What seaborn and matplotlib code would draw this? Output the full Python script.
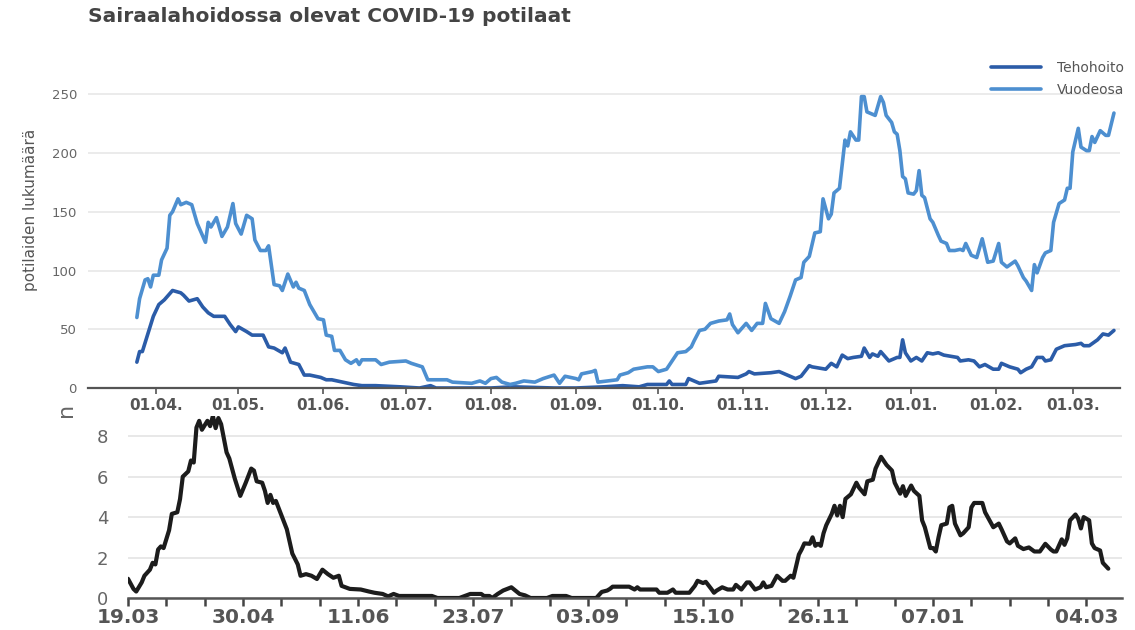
import pandas as pd
import matplotlib
matplotlib.use("Agg")
import matplotlib.pyplot as plt
import seaborn as sns

# Sairaalahoidossa olevat potilaat, päiviä 1.4.2020 alkaen
TOP_START = pd.Timestamp("2020-04-01")
# alempi kuva, päiviä 19.3.2020 alkaen
N_START = pd.Timestamp("2020-03-19")

vuodeosa_days = [-7, -6, -4, -3, -2, -1, 1, 2, 4, 5, 6, 8, 9, 11, 13, 15, 18, 19, 20, 22,
                 24, 26, 28, 29, 31, 33, 35, 36, 38, 40, 41, 43, 45, 46, 48, 50, 51, 52, 54, 56,
                 59, 61, 62, 64, 65, 67, 69, 71, 73, 74, 75, 80, 82, 85, 91, 93, 97, 99, 102, 106,
                 108, 115, 118, 120, 122, 124, 126, 129, 131, 134, 138, 141, 145, 147, 149, 151, 153, 154, 155, 159,
                 160, 161, 168, 169, 172, 174, 179, 181, 183, 186, 188, 190, 193, 195, 196, 198, 200, 202, 205, 208,
                 209, 210, 212, 215, 217, 219, 221, 222, 224, 227, 229, 231, 233, 235, 236, 238, 240, 242, 243, 245,
                 246, 247, 249, 251, 252, 253, 255, 256, 257, 258, 259, 261, 262, 264, 265, 266, 268, 269, 270, 271,
                 272, 273, 274, 276, 277, 278, 279, 280, 282, 283, 285, 286, 288, 289, 291, 293, 294, 295, 297, 299,
                 301, 303, 305, 307, 308, 310, 313, 314, 316, 317, 319, 320, 321, 323, 324, 326, 327, 329, 331, 332,
                 333, 334, 336, 337, 339, 340, 341, 342, 344, 346, 347, 349]
vuodeosa = [60, 76, 92, 93, 86, 96, 96, 109, 119, 147, 150, 161, 156, 158, 156, 140, 124, 141, 137, 145,
            129, 137, 157, 140, 131, 147, 144, 126, 117, 117, 121, 88, 87, 83, 97, 86, 90, 85, 83, 71,
            59, 58, 45, 44, 32, 32, 24, 21, 24, 20, 24, 24, 20, 22, 23, 21, 18, 7, 7, 7,
            5, 4, 6, 4, 8, 9, 5, 3, 4, 6, 5, 8, 11, 4, 10, 9, 8, 7, 12, 14,
            15, 5, 7, 11, 13, 16, 18, 18, 14, 16, 23, 30, 31, 35, 40, 49, 50, 55, 57, 58,
            63, 54, 47, 55, 49, 55, 55, 72, 59, 55, 65, 78, 92, 94, 107, 112, 132, 133, 161, 144,
            148, 166, 170, 211, 206, 218, 211, 211, 248, 248, 235, 233, 232, 248, 243, 232, 226, 218, 216, 202,
            180, 178, 166, 165, 168, 185, 164, 162, 144, 141, 130, 125, 123, 117, 117, 118, 117, 123, 113, 111,
            127, 107, 108, 123, 107, 103, 108, 104, 94, 91, 83, 105, 98, 111, 115, 117, 141, 157, 160, 170,
            170, 201, 221, 205, 202, 202, 214, 209, 219, 215, 215, 234]

teho_days = [-7, -6, -5, -3, -1, 1, 3, 6, 9, 10, 12, 15, 17, 19, 21, 24, 25, 27, 29, 30,
             33, 35, 39, 41, 43, 46, 47, 49, 52, 54, 56, 60, 62, 64, 68, 72, 75, 80, 89, 96,
             100, 102, 110, 122, 130, 145, 153, 163, 170, 176, 179, 186, 187, 188, 193, 194, 196, 198, 204, 205,
             212, 215, 216, 218, 224, 227, 230, 233, 235, 238, 239, 244, 246, 248, 250, 252, 254, 257, 258, 260,
             261, 263, 264, 267, 270, 271, 272, 273, 275, 277, 279, 281, 283, 285, 287, 292, 293, 296, 298, 300,
             302, 305, 307, 308, 311, 314, 315, 317, 319, 321, 323, 324, 326, 328, 331, 335, 337, 338, 340, 343,
             345, 347, 349]
tehohoito = [22, 31, 31, 46, 61, 71, 75, 83, 81, 79, 74, 76, 69, 64, 61, 61, 61, 54, 48, 52,
             48, 45, 45, 35, 34, 30, 34, 22, 20, 11, 11, 9, 7, 7, 5, 3, 2, 2, 1, 0,
             2, 0, 0, 0, 1, 0, 0, 1, 2, 1, 3, 3, 6, 3, 3, 8, 6, 4, 6, 10,
             9, 12, 14, 12, 13, 14, 11, 8, 10, 19, 18, 16, 21, 18, 28, 25, 26, 27, 34, 26,
             29, 27, 31, 23, 26, 26, 41, 30, 23, 26, 23, 30, 29, 30, 28, 26, 23, 24, 23, 18,
             20, 16, 16, 21, 18, 16, 13, 16, 18, 26, 26, 23, 24, 33, 36, 37, 38, 36, 36, 41,
             46, 45, 49]

n_days = [0, 2, 3, 5, 6, 8, 9, 10, 11, 12, 13, 15, 16, 18, 19, 20, 22, 23, 24, 25,
          26, 27, 29, 30, 31, 32, 33, 34, 36, 37, 39, 41, 43, 45, 46, 47, 49, 50, 51, 52,
          53, 54, 56, 58, 60, 62, 63, 65, 67, 69, 71, 73, 75, 77, 78, 81, 85, 88, 90, 93,
          95, 97, 99, 104, 111, 113, 121, 123, 125, 129, 130, 132, 133, 135, 137, 140, 143, 145, 147, 153,
          155, 160, 162, 171, 173, 175, 176, 177, 183, 185, 186, 187, 193, 194, 197, 199, 200, 205, 207, 208,
          210, 211, 213, 214, 215, 217, 219, 221, 222, 224, 226, 227, 229, 231, 232, 233, 235, 237, 239, 240,
          242, 243, 245, 246, 247, 249, 250, 251, 252, 253, 254, 255, 257, 258, 259, 260, 261, 262, 264, 266,
          267, 269, 270, 272, 273, 275, 277, 279, 280, 282, 283, 284, 286, 287, 289, 290, 291, 293, 294, 295,
          296, 297, 299, 300, 301, 302, 304, 305, 307, 308, 309, 312, 313, 316, 318, 319, 321, 322, 324, 325,
          327, 329, 331, 333, 335, 337, 338, 339, 341, 342, 343, 344, 346, 347, 348, 349, 351, 352, 353, 355,
          356, 358]
n_values = [0.95, 0.45, 0.32, 0.77, 1.1, 1.4, 1.74, 1.66, 2.4, 2.55, 2.47, 3.35, 4.16, 4.24, 4.89, 6.0, 6.26, 6.8, 6.7, 8.43,
            8.76, 8.32, 8.76, 8.5, 9.0, 8.4, 8.9, 8.6, 7.2, 6.9, 5.9, 5.05, 5.7, 6.4, 6.3, 5.77, 5.7, 5.3, 4.7, 5.1,
            4.7, 4.8, 4.1, 3.4, 2.2, 1.66, 1.1, 1.18, 1.1, 0.94, 1.4, 1.18, 1.0, 1.1, 0.6, 0.45, 0.42, 0.32, 0.26, 0.2,
            0.08, 0.2, 0.1, 0.1, 0.1, 0.0, 0.0, 0.1, 0.2, 0.2, 0.1, 0.1, 0.0, 0.2, 0.37, 0.53, 0.2, 0.13, 0.0, 0.0,
            0.1, 0.1, 0.0, 0.0, 0.3, 0.37, 0.45, 0.56, 0.56, 0.42, 0.53, 0.42, 0.42, 0.26, 0.26, 0.42, 0.26, 0.26, 0.6, 0.85,
            0.74, 0.8, 0.45, 0.26, 0.37, 0.53, 0.42, 0.42, 0.65, 0.42, 0.77, 0.77, 0.42, 0.53, 0.77, 0.53, 0.6, 1.1, 0.85, 0.85,
            1.1, 1.0, 2.15, 2.4, 2.7, 2.68, 3.0, 2.58, 2.68, 2.58, 3.2, 3.6, 4.16, 4.56, 4.08, 4.56, 4.0, 4.9, 5.13, 5.7,
            5.45, 5.13, 5.77, 5.85, 6.4, 6.98, 6.58, 6.3, 5.7, 5.16, 5.53, 5.05, 5.56, 5.3, 5.05, 3.84, 3.5, 2.47, 2.47, 2.3,
            3.0, 3.6, 3.68, 4.48, 4.56, 3.68, 3.1, 3.2, 3.5, 4.48, 4.7, 4.7, 4.24, 3.5, 3.68, 3.4, 2.8, 2.7, 2.95, 2.58,
            2.42, 2.5, 2.3, 2.3, 2.68, 2.4, 2.3, 2.3, 2.9, 2.63, 2.95, 3.84, 4.13, 3.92, 3.44, 4.0, 3.84, 2.7, 2.47, 2.35,
            1.74, 1.45]

month_labels = ["01.04.", "01.05.", "01.06.", "01.07.", "01.08.", "01.09.",
                "01.10.", "01.11.", "01.12.", "01.01.", "01.02.", "01.03."]
n_tick_labels = ["19.03", "", "", "30.04", "", "", "11.06", "", "", "23.07", "", "", "03.09",
                 "", "", "15.10", "", "", "26.11", "", "", "07.01", "", "", "", "04.03"]

TEHO_COLOR = "#2b5ca8"
VUODE_COLOR = "#4d8fd0"

sns.set_theme(style="white")
plt.rcParams["font.family"] = ["DejaVu Sans"]
plt.rcParams["lines.solid_joinstyle"] = "round"

df_v = pd.DataFrame({"pvm": TOP_START + pd.to_timedelta(vuodeosa_days, unit="D"), "potilaat": vuodeosa})
df_t = pd.DataFrame({"pvm": TOP_START + pd.to_timedelta(teho_days, unit="D"), "potilaat": tehohoito})
df_n = pd.DataFrame({"pvm": N_START + pd.to_timedelta(n_days, unit="D"), "n": n_values})

fig = plt.figure(figsize=(11.35, 6.3), dpi=100)
W, H = 1135, 630

# ylempi kuva
ax = fig.add_axes([88 / W, 1 - 388 / H, 1032 / W, 329 / H])
sns.lineplot(data=df_t, x="pvm", y="potilaat", ax=ax, color=TEHO_COLOR, lw=2.6, label="Tehohoito")
sns.lineplot(data=df_v, x="pvm", y="potilaat", ax=ax, color=VUODE_COLOR, lw=2.6, label="Vuodeosa")
ax.set_xlim(TOP_START - pd.Timedelta(days=24.8), TOP_START + pd.Timedelta(days=351.2))
ax.set_ylim(0, 280)
ax.set_yticks([0, 50, 100, 150, 200, 250])
ax.set_xticks(pd.date_range(TOP_START, periods=12, freq="MS"))
ax.set_xticklabels(month_labels, fontsize=11, fontweight="bold", color="#555555")
ax.tick_params(axis="y", labelsize=9.5, colors="#666666", length=0, pad=8)
ax.tick_params(axis="x", length=4, width=1.2, color="#555555", pad=3, bottom=True)
ax.grid(axis="y", color="#e9e9e9", lw=1.3)
ax.grid(axis="x", visible=False)
for s in ["top", "right", "left"]:
    ax.spines[s].set_visible(False)
ax.spines["bottom"].set_color("#555555")
ax.spines["bottom"].set_linewidth(1.6)
ax.set_xlabel("")
ax.set_ylabel("")
leg = ax.legend(loc="upper right", bbox_to_anchor=(1124 / W, 1 - 61 / H), bbox_transform=fig.transFigure,
                frameon=False, fontsize=10, handlelength=3.6, handletextpad=1.1, labelspacing=0.6,
                borderaxespad=0, borderpad=0)
for t in leg.get_texts():
    t.set_color("#555555")
for line in leg.get_lines():
    line.set_linewidth(2.6)

fig.text(88 / W, 1 - 16 / H, "Sairaalahoidossa olevat COVID-19 potilaat", fontsize=14.5,
         fontweight="bold", color="#444444", ha="left", va="center")
fig.text(31 / W, 1 - 210 / H, "potilaiden lukumäärä", rotation=90, ha="center", va="center",
         fontsize=11, color="#555555", family=["Liberation Sans Narrow", "DejaVu Sans"])

# alempi kuva
ax2 = fig.add_axes([128 / W, 1 - 598 / H, 994 / W, 182 / H])
sns.lineplot(data=df_n, x="pvm", y="n", ax=ax2, color="#1c1c1c", lw=3.0)
ax2.set_xlim(N_START, N_START + pd.Timedelta(days=363))
ax2.set_ylim(0, 9.0)
ax2.set_yticks([0, 2, 4, 6, 8])
ax2.set_xticks(pd.date_range(N_START, periods=len(n_tick_labels), freq="14D"))
ax2.set_xticklabels(n_tick_labels, fontsize=14.5, fontweight="bold", color="#555555")
ax2.tick_params(axis="y", labelsize=13, colors="#666666", length=0, pad=14)
ax2.tick_params(axis="x", length=6, width=1.8, color="#444444", pad=1.0, bottom=True)
ax2.grid(axis="y", color="#e6e6e6", lw=1.3)
ax2.grid(axis="x", visible=False)
for s in ["top", "right", "left"]:
    ax2.spines[s].set_visible(False)
ax2.spines["bottom"].set_color("#555555")
ax2.spines["bottom"].set_linewidth(1.8)
ax2.set_xlabel("")
ax2.set_ylabel("")
fig.text(66 / W, 1 - 410 / H, "n", rotation=90, ha="center", va="center", fontsize=16, color="#666666")

fig.savefig("out.png", dpi=100)
